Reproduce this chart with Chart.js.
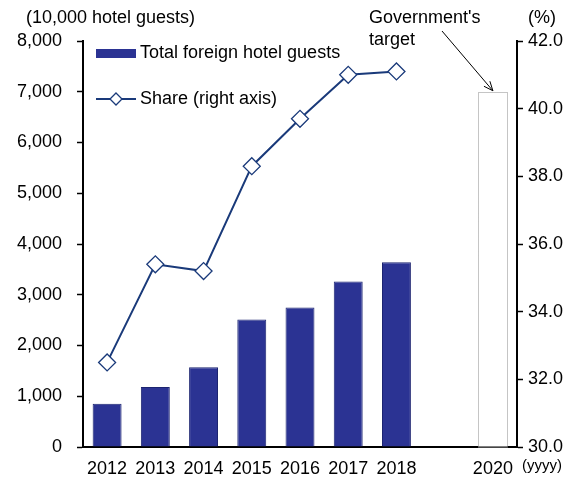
<!DOCTYPE html>
<html>
<head>
<meta charset="utf-8">
<script src="https://cdn.jsdelivr.net/npm/chart.js@4"></script>
<style>
  body { margin: 0; background: #fff; }
  #wrap { width: 576px; height: 482px; }
</style>
</head>
<body>
<div id="wrap"><canvas id="hotelChart" width="576" height="482"></canvas></div>
<script>
const years = ['2012', '2013', '2014', '2015', '2016', '2017', '2018', '', '2020'];
const guests = [850, 1180, 1570, 2510, 2750, 3260, 3640, null, null];
const targetGuests = [null, null, null, null, null, null, null, null, 7000];
const share = [32.5, 35.4, 35.2, 38.3, 39.7, 41.0, 41.1, null, null];

const FONT = "'Liberation Sans', Arial, sans-serif";
const BAR = '#2B3393';
const LINE = '#1A3A7A';

const overlay = {
    id: 'overlay',
    afterDatasetsDraw(chart) {
        const c = chart.ctx;
        c.save();
        c.fillStyle = '#000';
        c.font = '18px ' + FONT;
        c.textBaseline = 'middle';
        c.textAlign = 'left';
        c.fillText('(10,000 hotel guests)', 26, 18);
        c.fillText('(%)', 528, 18);
        c.fillText("Government's", 369, 18);
        c.fillText('target', 369, 40);
        c.font = '15px ' + FONT;
        c.fillText('(yyyy)', 522, 466);

        // dotted outline of the target bar
        const tb = chart.getDatasetMeta(1).data[8];
        if (tb) {
            const half = tb.width / 2;
            c.strokeStyle = '#8a8a8a';
            c.lineWidth = 1;
            c.setLineDash([1, 1]);
            c.strokeRect(Math.round(tb.x - half) + 0.5, Math.round(tb.y) + 0.5, Math.round(tb.width), Math.round(tb.base - tb.y));
            c.setLineDash([]);

            // arrow
            const ex = tb.x, ey = tb.y - 1;
            const sx = 442, sy = 31;
            c.strokeStyle = '#000';
            c.beginPath();
            c.moveTo(sx, sy);
            c.lineTo(ex, ey);
            c.stroke();
            const ang = Math.atan2(ey - sy, ex - sx);
            c.beginPath();
            c.moveTo(ex - 10 * Math.cos(ang - 0.4), ey - 10 * Math.sin(ang - 0.4));
            c.lineTo(ex, ey);
            c.lineTo(ex - 10 * Math.cos(ang + 0.4), ey - 10 * Math.sin(ang + 0.4));
            c.stroke();
        }

        // legend inside the plot
        const lx = 96;
        c.fillStyle = BAR;
        c.fillRect(lx, 49, 40, 9);
        c.font = '18px ' + FONT;
        c.fillStyle = '#000';
        c.fillText(chart.data.datasets[0].label, lx + 44, 53);
        c.strokeStyle = LINE;
        c.lineWidth = 2;
        c.beginPath();
        c.moveTo(lx, 99);
        c.lineTo(lx + 40, 99);
        c.stroke();
        c.fillStyle = '#fff';
        c.lineWidth = 1.3;
        c.beginPath();
        c.moveTo(lx + 20, 93);
        c.lineTo(lx + 26, 99);
        c.lineTo(lx + 20, 105);
        c.lineTo(lx + 14, 99);
        c.closePath();
        c.fill();
        c.stroke();
        c.fillStyle = '#000';
        c.fillText(chart.data.datasets[2].label, lx + 44, 99);
        c.restore();
    }
};

const chart = new Chart(document.getElementById('hotelChart').getContext('2d'), {
    data: {
        labels: years,
        datasets: [{
            type: 'bar',
            label: 'Total foreign hotel guests',
            data: guests,
            backgroundColor: BAR,
            borderColor: '#1C2470',
            borderWidth: 1,
            borderSkipped: 'bottom',
            barPercentage: 0.6,
            categoryPercentage: 1.0,
            grouped: false,
            yAxisID: 'y',
            order: 2
        }, {
            type: 'bar',
            label: "Government's target",
            data: targetGuests,
            backgroundColor: '#fff',
            borderWidth: 0,
            barPercentage: 0.6,
            categoryPercentage: 1.0,
            grouped: false,
            yAxisID: 'y',
            order: 3
        }, {
            type: 'line',
            label: 'Share (right axis)',
            data: share,
            borderColor: LINE,
            borderWidth: 2,
            pointStyle: 'rectRot',
            pointRadius: 8.5,
            pointBackgroundColor: '#fff',
            pointBorderColor: LINE,
            pointBorderWidth: 1.3,
            yAxisID: 'y1',
            order: 0
        }]
    },
    options: {
        responsive: false,
        animation: false,
        layout: { padding: { top: 41, left: 0, right: 0, bottom: 0 } },
        plugins: {
            legend: { display: false },
            tooltip: { enabled: false }
        },
        scales: {
            x: {
                offset: true,
                grid: { display: false, drawTicks: false },
                border: { color: '#000', width: 2 },
                ticks: { color: '#000', font: { family: FONT, size: 18 }, padding: 11, maxRotation: 0, autoSkip: false },
                afterFit: s => { s.height = 35; }
            },
            y: {
                position: 'left',
                min: 0,
                max: 8000,
                grid: { drawOnChartArea: false, color: '#000', tickLength: 6, tickWidth: 1.5 },
                border: { color: '#000', width: 2 },
                ticks: {
                    stepSize: 1000,
                    color: '#000',
                    padding: 15,
                    font: { family: FONT, size: 18 },
                    callback: v => v.toLocaleString('en-US')
                },
                afterFit: s => { s.width = 83; }
            },
            y1: {
                position: 'right',
                min: 30,
                max: 42,
                grid: { drawOnChartArea: false, color: '#000', tickLength: 6, tickWidth: 1.5 },
                border: { color: '#000', width: 2 },
                ticks: {
                    stepSize: 2,
                    color: '#000',
                    padding: 5,
                    font: { family: FONT, size: 18 },
                    callback: v => v.toFixed(1)
                },
                afterFit: s => { s.width = 59; }
            }
        }
    },
    plugins: [overlay]
});
</script>
</body>
</html>
